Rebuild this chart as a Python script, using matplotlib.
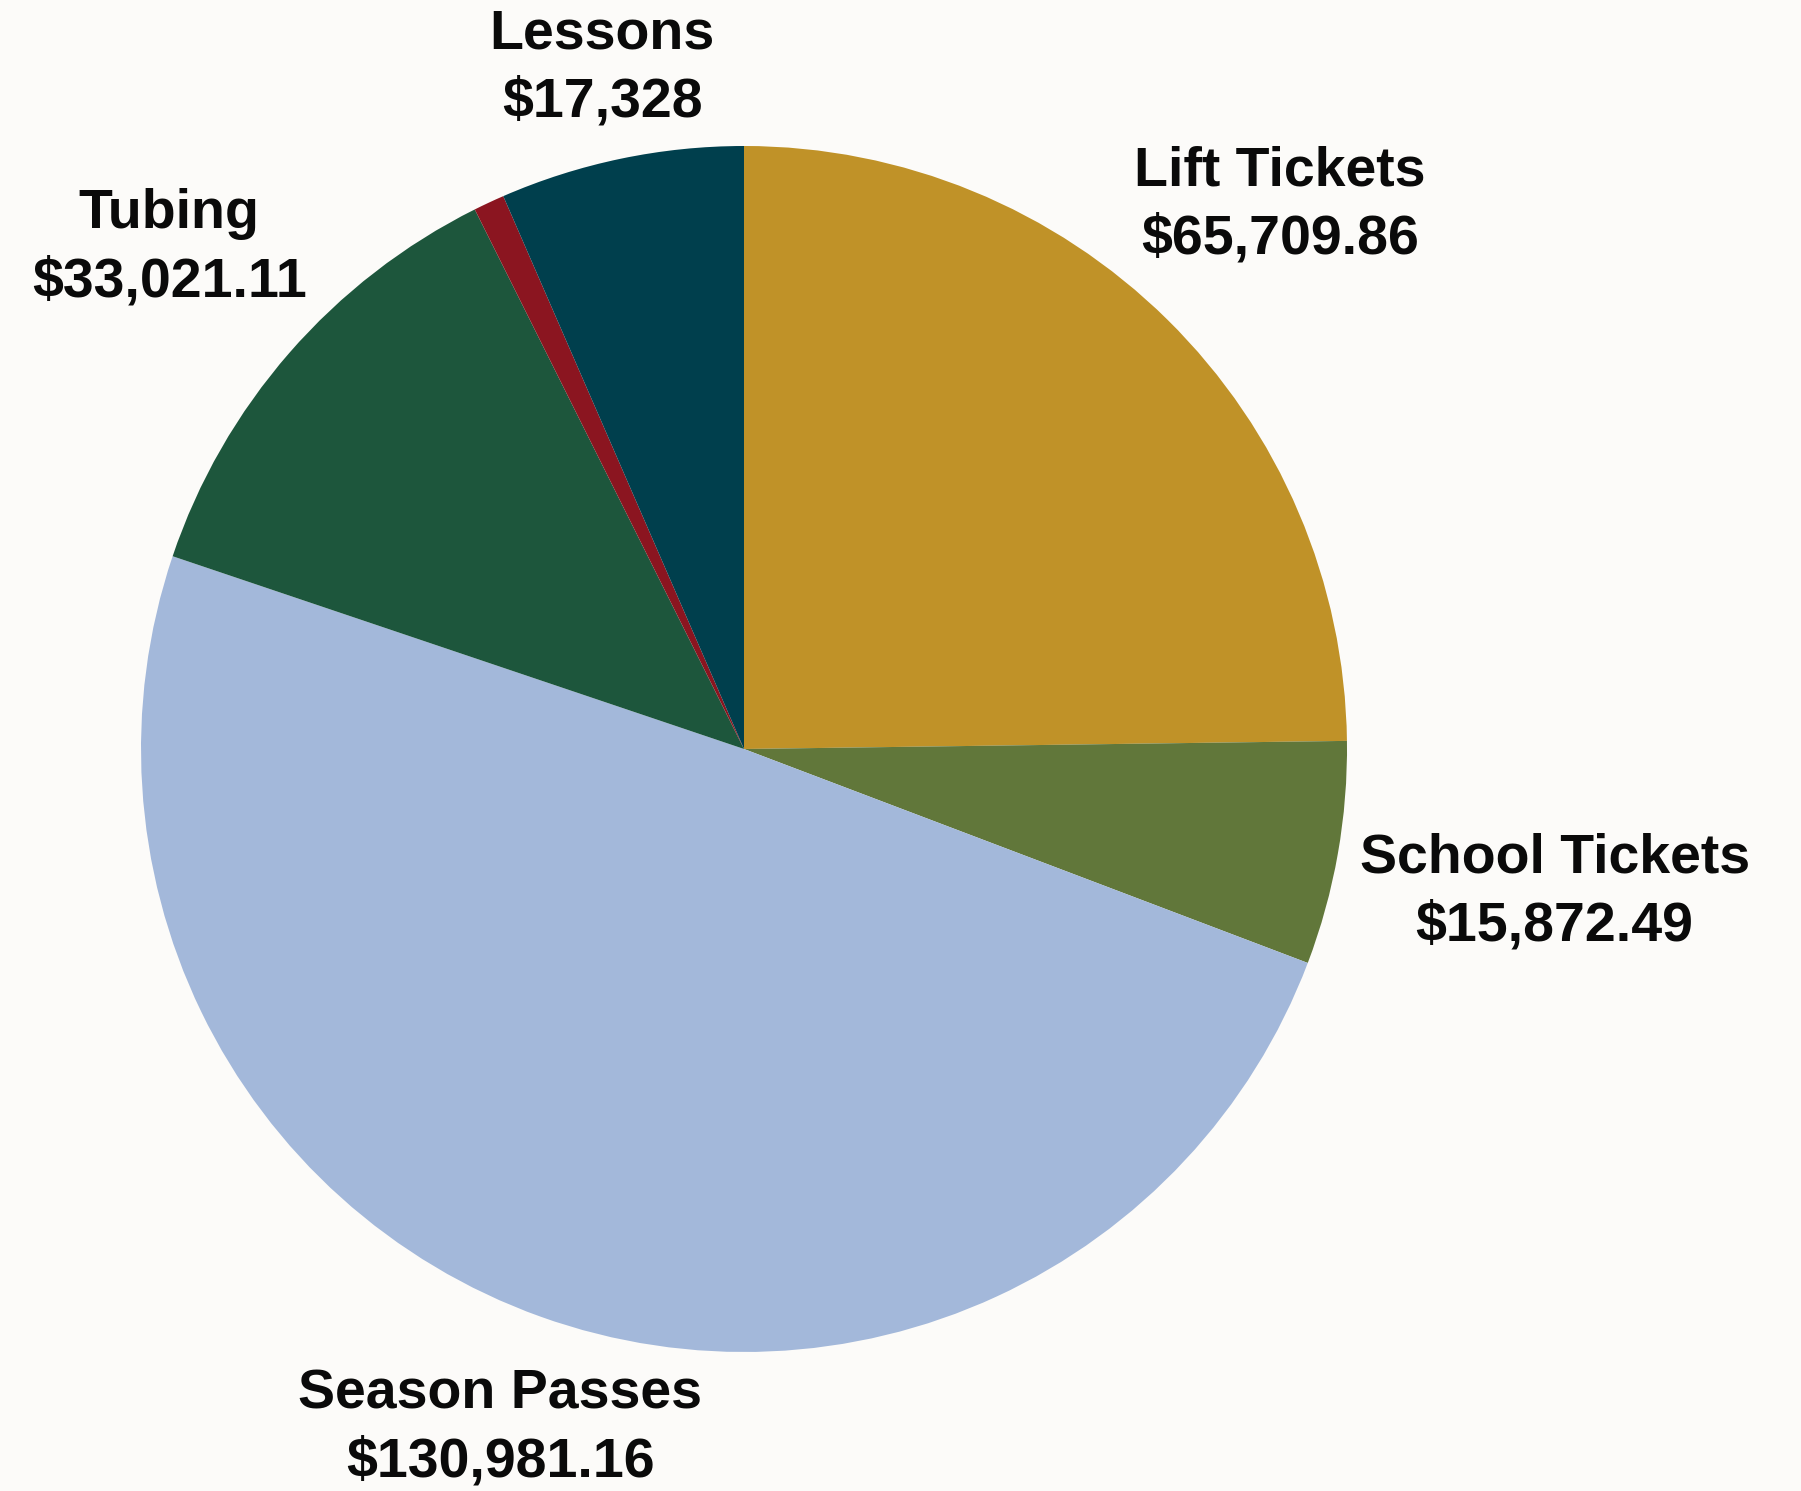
import matplotlib
matplotlib.use("Agg")
import matplotlib.pyplot as plt
import numpy as np

# revenue by category (clockwise from 12 o'clock)
categories = ["Lift Tickets", "School Tickets", "Season Passes", "Tubing", "Other", "Lessons"]
revenue = [65709.86, 15872.49, 130981.16, 33021.11, 2200.0, 17328.0]
value_labels = ["$65,709.86", "$15,872.49", "$130,981.16", "$33,021.11", "", "$17,328"]
show_label = [True, True, True, True, False, True]
colors = ["#C09228", "#61773A", "#A3B8DA", "#1D563C", "#8B1520", "#003F4D"]

bg = "#FCFBF9"
W, H = 1801, 1491
cx, cy, R = 744, 1491 - 749, 603

fig = plt.figure(figsize=(W / 100, H / 100), dpi=100, facecolor=bg)
ax = fig.add_axes([0, 0, 1, 1])
ax.set_facecolor(bg)

wedges, _ = ax.pie(revenue, colors=colors, startangle=90, counterclock=False,
                   center=(cx, cy), radius=R, frame=True,
                   wedgeprops=dict(linewidth=0))
ax.set_xlim(0, W)
ax.set_ylim(0, H)
ax.set_aspect("equal")
ax.axis("off")

fig.canvas.draw()
renderer = fig.canvas.get_renderer()
inv = ax.transData.inverted()
gap = R * 1.03

for w, name, val, show in zip(wedges, categories, value_labels, show_label):
    if not show:
        continue
    mid = np.deg2rad((w.theta1 + w.theta2) / 2)
    ux, uy = np.cos(mid), np.sin(mid)
    t = ax.text(cx, cy, f"{name}\n{val}", ha="center", va="center",
                fontsize=40, fontweight="bold", family=["Liberation Sans", "DejaVu Sans"],
                color="#0A0A0A", linespacing=1.4)
    bb = t.get_window_extent(renderer)
    p0 = inv.transform((bb.x0, bb.y0))
    p1 = inv.transform((bb.x1, bb.y1))
    hw, hh = abs(p1[0] - p0[0]) / 2, abs(p1[1] - p0[1]) / 2
    # push the label out until its nearest point clears the pie edge
    lo, hi = 0.0, 3 * R
    for _ in range(60):
        d = (lo + hi) / 2
        bx, by = d * ux, d * uy
        nx = np.sign(bx) * max(abs(bx) - hw, 0)
        ny = np.sign(by) * max(abs(by) - hh, 0)
        if np.hypot(nx, ny) < gap:
            lo = d
        else:
            hi = d
    t.set_position((cx + hi * ux, cy + hi * uy))

fig.savefig("out.png", dpi=100, facecolor=bg)
